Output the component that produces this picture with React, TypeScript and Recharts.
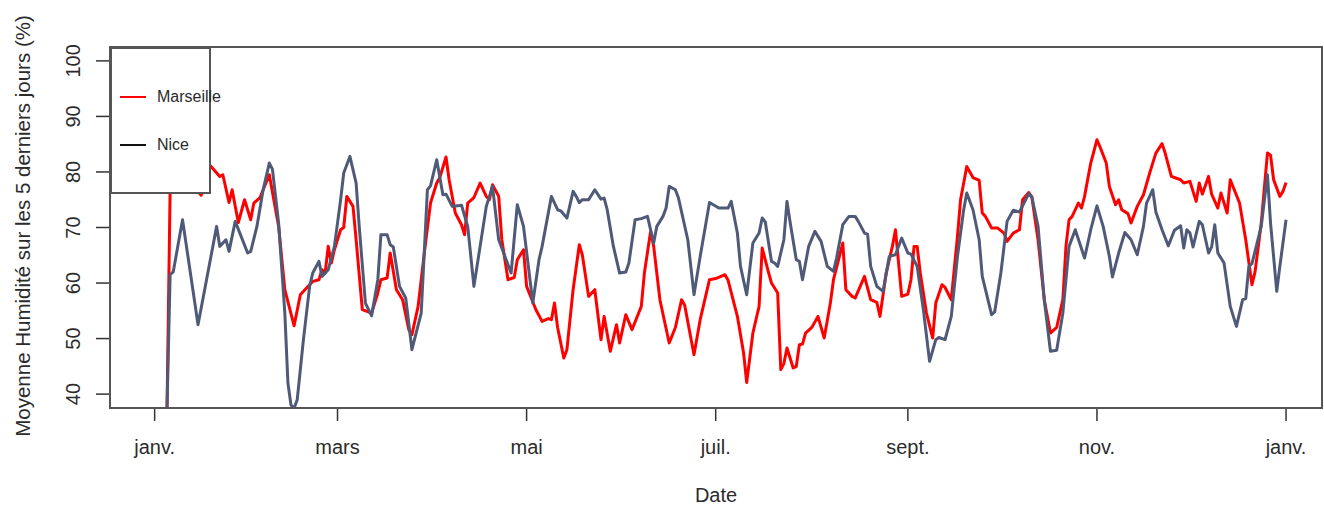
import { LineChart, Line, XAxis, YAxis, Legend } from 'recharts';

// jour de l'année -> moyenne glissante 5 jours (%)
const marseille: [number, number][] = [
    [4, 37.5], [5, 77], [8, 79], [12, 78], [15, 75.8], [18, 81.1], [21, 79.2], [22, 79.5], [24, 74.5], [25, 76.8],
    [27, 70.9], [29, 75], [31, 71.4], [32, 74.4], [34, 75.4], [37, 79.5], [40, 70.2], [42, 58.8], [45, 52.3], [47, 57.9],
    [49, 59.1], [51, 60.3], [53, 60.6], [54, 62.4], [55, 61.8], [56, 66.6], [57, 63.6], [58, 66], [60, 69.6], [61, 70],
    [62, 75.6], [64, 73.8], [65, 67.8], [67, 55.2], [70, 54.6], [72, 58.2], [73, 60.6], [75, 60.9], [76, 65.4], [78, 58.8],
    [80, 57], [82, 51.6], [83, 50.7], [85, 55.8], [87, 65.4], [89, 74.4], [91, 78], [92, 79], [94, 82.7], [95, 78.6],
    [97, 72.6], [99, 70.5], [100, 68.7], [101, 74.4], [103, 75.4], [105, 78], [107, 75.6], [108, 75], [109, 77.7], [111, 75.6],
    [112, 67.8], [114, 60.6], [116, 61], [117, 64.2], [119, 66], [120, 59.4], [123, 55.2], [125, 53.1], [127, 53.6], [128, 53.4],
    [129, 56.4], [130, 52], [132, 46.5], [133, 48], [135, 58.8], [137, 66.9], [138, 65], [140, 57.6], [142, 58.8], [144, 49.8],
    [145, 54], [147, 47.7], [149, 52.5], [150, 49.2], [152, 54.3], [154, 51.6], [157, 55.8], [158, 61.8], [160, 69.3], [161, 66.6],
    [163, 57], [166, 49.2], [168, 52], [170, 57], [171, 56], [174, 47.1], [176, 53.4], [179, 60.6], [181, 60.8], [184, 61.5],
    [185, 60.5], [188, 54], [190, 47.4], [191, 42.1], [193, 51], [195, 55.8], [196, 66.3], [198, 62], [199, 60], [201, 58.2],
    [202, 44.4], [203, 45.5], [204, 48.3], [206, 44.7], [207, 45], [208, 48.9], [209, 49], [210, 51], [212, 52], [214, 54],
    [216, 50.1], [218, 56.4], [219, 60.6], [222, 67.2], [223, 58.8], [225, 57.6], [226, 57.3], [229, 61.2], [231, 57], [233, 56.5],
    [234, 54], [236, 61.8], [238, 66.6], [239, 69.6], [241, 57.6], [243, 58], [244, 60.6], [245, 66.6], [246, 66.6], [247, 61.8],
    [249, 54.6], [251, 50.1], [252, 56.4], [254, 59.7], [255, 59.2], [257, 57], [259, 68.4], [260, 75], [262, 81], [264, 79],
    [266, 78.5], [267, 72.6], [268, 72], [270, 69.9], [272, 69.9], [274, 69], [275, 67.5], [277, 69], [279, 69.6], [280, 75],
    [282, 76.3], [283, 75.5], [285, 67.8], [287, 57], [289, 51], [291, 52], [293, 57], [294, 66.6], [295, 71.4], [296, 72],
    [298, 74.4], [299, 73.5], [300, 75.6], [302, 81.6], [304, 85.8], [305, 84.5], [307, 81.6], [308, 77.4], [310, 74.1], [311, 75],
    [312, 73.2], [314, 72.5], [315, 70.8], [317, 73.8], [319, 75.9], [321, 79.8], [323, 83.4], [325, 85.1], [326, 83.4], [328, 79.2],
    [329, 79], [331, 78.6], [332, 78], [334, 78.3], [336, 74.7], [337, 78], [338, 76], [340, 79.2], [341, 76], [343, 73.5],
    [344, 76.2], [346, 72.6], [347, 78.6], [350, 74.4], [352, 67.8], [354, 59.7], [355, 62], [357, 70.8], [359, 83.4], [360, 83],
    [361, 78.6], [363, 75.6], [364, 76.5], [365, 78.1],
];

const nice: [number, number][] = [
    [4, 37.5], [5, 61.5], [6, 62], [9, 71.4], [14, 52.5], [20, 70.2], [21, 66.6], [23, 67.8], [24, 65.7], [26, 71.1],
    [30, 65.4], [31, 65.7], [33, 70.2], [35, 76.8], [37, 81.6], [38, 80.5], [40, 70.8], [42, 54.6], [43, 42], [44, 38],
    [45, 37.5], [46, 39], [48, 49.8], [50, 59.4], [51, 61.8], [53, 63.9], [54, 61.2], [56, 62.4], [58, 66.6], [60, 75],
    [61, 79.8], [63, 82.8], [65, 78], [66, 70.2], [68, 56.4], [70, 54.1], [72, 60.6], [73, 68.7], [75, 68.7], [76, 66.9],
    [77, 66.5], [79, 59.4], [81, 57.3], [83, 48], [86, 54.6], [88, 76.8], [89, 77.5], [91, 82.2], [93, 75.9], [94, 76],
    [96, 73.8], [99, 74], [101, 70.2], [103, 59.4], [105, 66.6], [107, 73.8], [109, 77.4], [111, 67.8], [115, 61.8], [117, 74.1],
    [119, 70.2], [122, 56.4], [124, 64.2], [125, 66.6], [128, 75.6], [130, 73.2], [131, 73], [133, 71.7], [135, 76.5], [136, 75.6],
    [137, 74.5], [138, 75], [140, 75], [142, 76.8], [144, 75.1], [145, 75.3], [146, 73.2], [148, 66.6], [150, 61.8], [152, 62],
    [153, 63.6], [155, 71.4], [157, 71.6], [159, 72], [161, 67.2], [162, 70.2], [164, 72], [165, 73.5], [166, 77.4], [168, 76.8],
    [169, 75.3], [172, 67.8], [174, 57.9], [176, 64.8], [179, 74.5], [182, 73.5], [185, 73.5], [186, 74.7], [188, 69], [189, 63],
    [191, 57.9], [193, 67.2], [195, 69], [196, 71.7], [197, 71], [199, 63.9], [200, 63.6], [201, 63], [203, 67.8], [204, 74.7],
    [205, 71], [207, 64.2], [208, 63.9], [209, 60.6], [211, 66.6], [213, 69.3], [215, 67.5], [217, 63], [219, 62.1], [220, 64.5],
    [222, 70.5], [224, 72], [226, 72], [227, 71.1], [229, 69], [230, 68.8], [231, 63], [233, 59.4], [235, 58.5], [237, 64.8],
    [239, 65.1], [241, 68.1], [243, 65.4], [244, 65.2], [246, 63], [248, 55.2], [250, 45.9], [252, 49.8], [253, 50.2], [255, 49.8],
    [257, 54], [259, 64.8], [261, 73.2], [262, 76.2], [264, 73.2], [266, 67.8], [267, 61.2], [270, 54.3], [271, 54.8], [273, 61.8],
    [275, 71.1], [277, 73.1], [279, 72.8], [282, 76.1], [283, 75.5], [285, 70.2], [287, 57], [289, 47.7], [291, 47.9], [293, 54.6],
    [295, 66.6], [297, 69.6], [300, 64.5], [302, 69.6], [304, 73.9], [306, 70.2], [308, 64.8], [309, 61.1], [311, 65.4], [313, 69.1],
    [315, 67.8], [317, 65.1], [319, 70.2], [320, 74.4], [322, 76.8], [323, 72.8], [325, 69.6], [327, 66.7], [329, 69.5], [331, 70.3],
    [332, 66.3], [333, 69.6], [334, 69], [335, 66.5], [337, 71.1], [338, 70.5], [340, 65.4], [341, 66.5], [342, 70.5], [343, 65.4],
    [345, 63.6], [347, 55.8], [349, 52.2], [351, 57], [352, 57.2], [353, 63], [354, 63.5], [357, 70.2], [359, 79.5], [360, 70.8],
    [362, 58.5], [363, 63], [365, 71.4],
];

const monthTicks = [0, 59, 120, 181, 243, 304, 365];
const monthLabels = ['janv.', 'mars', 'mai', 'juil.', 'sept.', 'nov.', 'janv.'];
const humidityTicks = [40, 50, 60, 70, 80, 90, 100];

const FONT = '"Liberation Sans", Arial, Helvetica, sans-serif';
const TEXT = '#2b2b2b';
const RED = '#ff0000';
const SLATE = '#4f5a78';

const toRows = (pts: [number, number][]) => pts.map(([day, value]) => ({ day, value }));

function MonthTick(props: any) {
    const { x, y, payload } = props;
    return (
        <text x={x} y={y} dy="0.71em" textAnchor="middle" fontSize={20} fontFamily={FONT} fill={TEXT}>
            {monthLabels[monthTicks.indexOf(payload.value)]}
        </text>
    );
}

function HumidityTick(props: any) {
    const { y, payload } = props;
    return (
        <text x={80} y={y} transform={`rotate(-90 80 ${y})`} textAnchor="middle" fontSize={20} fontFamily={FONT} fill={TEXT}>
            {payload.value}
        </text>
    );
}

// titres d'axes, à position fixe (les props injectées par Recharts sont ignorées)
function DateTitle() {
    return (
        <text x={716} y={502} textAnchor="middle" fontSize={20} fontFamily={FONT} fill={TEXT}>
            Date
        </text>
    );
}

function HumidityTitle() {
    return (
        <text x={30} y={226} transform="rotate(-90 30 226)" textAnchor="middle" fontSize={20.5} fontFamily={FONT} fill={TEXT}>
            Moyenne Humidité sur les 5 derniers jours (%)
        </text>
    );
}

function LegendBox() {
    const item = (color: string, label: string, top: number) => (
        <div style={{ position: 'absolute', left: 0, top, width: '100%', height: 20 }}>
            <div style={{ position: 'absolute', left: 8, top: 9, width: 26, height: 2, background: color }} />
            <span style={{ position: 'absolute', left: 45, top: 0, fontSize: 16, lineHeight: '20px', color: TEXT, fontFamily: FONT, whiteSpace: 'nowrap' }}>
                {label}
            </span>
        </div>
    );
    return (
        <div style={{ position: 'relative', width: 101, height: 147, background: '#fff', border: '2px solid #555', boxSizing: 'border-box', overflow: 'visible' }}>
            {item(RED, 'Marseille', 38)}
            {item('#111', 'Nice', 86)}
        </div>
    );
}

export default function App() {
    return (
        <div style={{ position: 'absolute', left: 0, top: 0, width: 1324, height: 505, background: '#fff' }}>
            <LineChart width={1324} height={505} margin={{ top: 47, right: 2, bottom: 0, left: 0 }}>
                <XAxis
                    dataKey="day"
                    type="number"
                    domain={[-14.4, 376.6]}
                    ticks={monthTicks}
                    interval={0}
                    allowDataOverflow
                    axisLine={false}
                    tickLine={{ stroke: '#333', strokeWidth: 1.5 }}
                    tickSize={13}
                    tickMargin={19}
                    height={97}
                    tick={<MonthTick />}
                    label={<DateTitle />}
                />
                <YAxis
                    type="number"
                    domain={[37.5, 102.5]}
                    ticks={humidityTicks}
                    interval={0}
                    allowDataOverflow
                    axisLine={false}
                    tickLine={{ stroke: '#333', strokeWidth: 1.5 }}
                    tickSize={14}
                    width={110}
                    tick={<HumidityTick />}
                    label={<HumidityTitle />}
                />
                <Line data={toRows(marseille)} dataKey="value" name="Marseille" type="linear" stroke={RED} strokeWidth={3} strokeLinejoin="round" dot={false} isAnimationActive={false} />
                <Line data={toRows(nice)} dataKey="value" name="Nice" type="linear" stroke={SLATE} strokeWidth={3} strokeLinejoin="round" dot={false} isAnimationActive={false} />
                <Legend
                    layout="horizontal"
                    verticalAlign="middle"
                    align="center"
                    content={<LegendBox />}
                    wrapperStyle={{ position: 'absolute', left: 110, top: 47, width: 101, height: 147, margin: 0 }}
                />
            </LineChart>
            <div style={{ position: 'absolute', left: 109, top: 46, width: 1214, height: 363, border: '2px solid #555', boxSizing: 'border-box', pointerEvents: 'none' }} />
        </div>
    );
}
